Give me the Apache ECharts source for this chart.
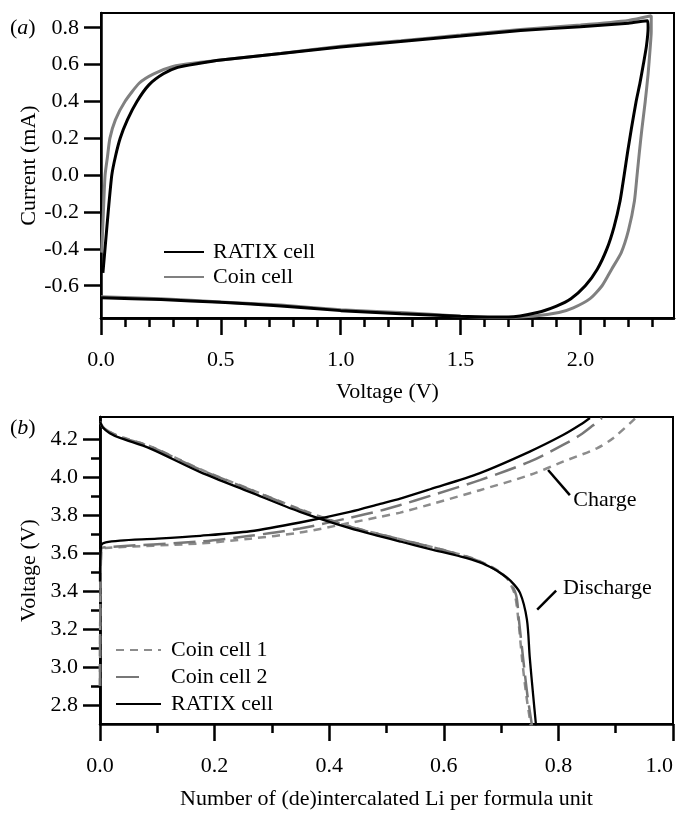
<!DOCTYPE html>
<html>
<head>
<meta charset="utf-8">
<script src="https://cdn.jsdelivr.net/npm/echarts@6/dist/echarts.min.js"></script>
<style>html,body{margin:0;padding:0;background:#fff}#c{width:680px;height:814px}</style>
</head>
<body>
<div id="c"></div>
<script>
// ---------- Panel (a): cyclic voltammetry [V, mA] ----------
const ratixCV = [
  [0.008,-0.53],[0.02,-0.35],[0.03,-0.2],[0.045,0.0],[0.06,0.1],[0.08,0.2],[0.11,0.3],[0.15,0.4],
  [0.2,0.49],[0.26,0.55],[0.32,0.585],[0.4,0.605],[0.5,0.625],[0.75,0.66],[1.0,0.695],[1.25,0.725],
  [1.5,0.755],[1.75,0.785],[2.0,0.805],[2.2,0.825],[2.28,0.838],
  [2.282,0.80],[2.275,0.7],[2.262,0.6],[2.248,0.5],[2.232,0.4],[2.212,0.25],[2.197,0.13],[2.182,0.0],
  [2.165,-0.14],[2.14,-0.28],[2.11,-0.4],[2.07,-0.51],[2.02,-0.6],[1.96,-0.67],[1.9,-0.71],[1.82,-0.745],
  [1.7,-0.77],[1.5,-0.765],[1.25,-0.752],[1.0,-0.735],[0.75,-0.71],[0.5,-0.69],[0.25,-0.675],[0.0,-0.665]
];
const coinCV = [
  [0.003,-0.42],[0.01,-0.2],[0.017,0.0],[0.027,0.1],[0.037,0.2],[0.06,0.3],[0.1,0.4],[0.16,0.5],
  [0.22,0.55],[0.3,0.59],[0.4,0.61],[0.5,0.625],[0.75,0.66],[1.0,0.7],[1.25,0.73],[1.5,0.76],
  [1.75,0.79],[2.0,0.815],[2.2,0.84],[2.295,0.865],
  [2.295,0.78],[2.29,0.68],[2.282,0.55],[2.27,0.4],[2.256,0.25],[2.246,0.13],[2.236,0.0],[2.225,-0.14],
  [2.2,-0.3],[2.17,-0.42],[2.13,-0.51],[2.09,-0.6],[2.04,-0.67],[1.97,-0.72],[1.91,-0.745],[1.8,-0.765],
  [1.65,-0.772],[1.5,-0.765],[1.25,-0.745],[1.0,-0.73],[0.75,-0.705],[0.5,-0.688],[0.25,-0.67],[0.0,-0.66]
];
const topXMajor = [0, 0.5, 1.0, 1.5, 2.0];
const topXMinor = [0,0.1,0.2,0.3,0.4,0.5,0.6,0.7,0.8,0.9,1.0,1.1,1.2,1.3,1.4,1.5,1.6,1.7,1.8,1.9,2.0,2.1,2.2,2.3];
const topYMajor = [-0.6,-0.4,-0.2,0.0,0.2,0.4,0.6,0.8];

// ---------- Panel (b): charge / discharge [x Li, V] ----------
const ratixCharge = [
  [0,3.45],[0.002,3.64],[0.01,3.655],[0.035,3.665],[0.1,3.675],[0.175,3.69],[0.262,3.714],[0.349,3.76],
  [0.436,3.816],[0.489,3.858],[0.524,3.886],[0.576,3.935],[0.663,4.02],[0.75,4.133],[0.808,4.22],
  [0.838,4.274],[0.855,4.31]
];
const ratixDischarge = [
  [0,4.29],[0.005,4.26],[0.017,4.23],[0.035,4.205],[0.087,4.15],[0.175,4.025],[0.262,3.92],[0.349,3.816],
  [0.436,3.73],[0.489,3.687],[0.524,3.66],[0.576,3.62],[0.63,3.58],[0.663,3.55],[0.686,3.518],
  [0.70,3.492],[0.716,3.455],[0.733,3.39],[0.745,3.25],[0.75,3.05],[0.756,2.85],[0.761,2.69]
];
const coin1Charge = [
  [0,2.9],[0.002,3.615],[0.01,3.626],[0.175,3.65],[0.262,3.675],[0.349,3.707],[0.436,3.758],[0.489,3.79],
  [0.524,3.812],[0.576,3.855],[0.663,3.93],[0.75,4.01],[0.808,4.08],[0.867,4.15],[0.896,4.205],[0.935,4.31]
];
const coin1Discharge = [
  [0,4.29],[0.005,4.262],[0.017,4.237],[0.035,4.212],[0.087,4.162],[0.175,4.04],[0.262,3.935],[0.349,3.83],
  [0.436,3.74],[0.524,3.672],[0.6,3.615],[0.65,3.572],[0.68,3.532],[0.70,3.495],[0.712,3.46],
  [0.724,3.38],[0.73,3.25],[0.737,3.03],[0.744,2.85],[0.752,2.69]
];
const coin2Charge = [
  [0,2.9],[0.002,3.62],[0.01,3.63],[0.175,3.66],[0.262,3.69],[0.349,3.728],[0.436,3.785],[0.489,3.822],
  [0.524,3.852],[0.576,3.9],[0.663,3.983],[0.75,4.08],[0.808,4.168],[0.838,4.22],[0.86,4.27],[0.876,4.31]
];
const coin2Discharge = [
  [0,4.29],[0.005,4.262],[0.017,4.236],[0.035,4.21],[0.087,4.16],[0.175,4.038],[0.262,3.933],[0.349,3.828],
  [0.436,3.738],[0.524,3.671],[0.6,3.614],[0.65,3.57],[0.68,3.53],[0.70,3.492],[0.713,3.458],
  [0.726,3.38],[0.731,3.25],[0.739,3.03],[0.746,2.85],[0.754,2.69]
];
const botYMajor = [2.8,3.0,3.2,3.4,3.6,3.8,4.0,4.2];
const botYMinor = [2.9,3.1,3.3,3.5,3.7,3.9,4.1];

// annotations in data coordinates of panel (b)
const chargeLeader = [[0.782,4.036],[0.820,3.904]];
const chargeLabelPos = [0.826,3.878];
const dischargeLeader = [[0.763,3.302],[0.796,3.402]];
const dischargeLabelPos = [0.808,3.413];

const FONT = '"Liberation Serif","Times New Roman",serif';
const FS = 22;
const txt = {fontFamily: FONT, fontSize: FS, color: '#000'};
const axisLine = {onZero: false, lineStyle: {color: '#000', width: 2.5}};

const chart = echarts.init(document.getElementById('c'), null, {renderer: 'canvas'});

const option = {
  animation: false,
  backgroundColor: '#fff',
  grid: [
    {left: 101, top: 13, width: 573, height: 305, show: true, borderColor: '#000', borderWidth: 2, containLabel: false, outerBoundsMode: 'none'},
    {left: 100, top: 417, width: 573, height: 307, show: true, borderColor: '#000', borderWidth: 2, containLabel: false, outerBoundsMode: 'none'}
  ],
  xAxis: [
    {gridIndex: 0, type: 'value', position: 'bottom', min: 0, max: 2.39,
     axisLine: axisLine, splitLine: {show: false},
     axisTick: {show: true, inside: false, length: 9, customValues: topXMinor, lineStyle: {color: '#000', width: 2.5}},
     axisLabel: {show: false}},
    {gridIndex: 0, type: 'value', position: 'bottom', min: 0, max: 2.39,
     axisLine: axisLine, splitLine: {show: false},
     axisTick: {show: true, inside: false, length: 17, customValues: topXMajor, lineStyle: {color: '#000', width: 2.5}},
     axisLabel: Object.assign({customValues: topXMajor, margin: 31, formatter: v => v.toFixed(1)}, txt),
     name: 'Voltage (V)', nameLocation: 'middle', nameGap: 63, nameMoveOverlap: false, nameTextStyle: txt},
    {gridIndex: 1, type: 'value', position: 'bottom', min: 0, max: 1.0, interval: 0.2,
     axisLine: axisLine, splitLine: {show: false},
     axisTick: {show: true, inside: false, length: 17, lineStyle: {color: '#000', width: 2.5}},
     minorTick: {show: true, splitNumber: 2, length: 9, lineStyle: {color: '#000', width: 2.5}},
     minorSplitLine: {show: false},
     axisLabel: Object.assign({margin: 31, alignMaxLabel: 'right', formatter: v => v.toFixed(1)}, txt),
     name: 'Number of (de)intercalated Li per formula unit', nameLocation: 'middle', nameGap: 64, nameMoveOverlap: false, nameTextStyle: txt}
  ],
  yAxis: [
    {gridIndex: 0, type: 'value', position: 'left', min: -0.775, max: 0.88,
     axisLine: axisLine, splitLine: {show: false},
     axisTick: {show: true, inside: false, length: 17, customValues: topYMajor, lineStyle: {color: '#000', width: 2.5}},
     axisLabel: Object.assign({customValues: topYMajor, margin: 22, formatter: v => v.toFixed(1)}, txt),
     name: 'Current (mA)', nameLocation: 'middle', nameGap: 61, nameMoveOverlap: false, nameTextStyle: txt},
    {gridIndex: 1, type: 'value', position: 'left', min: 2.7, max: 4.315,
     axisLine: axisLine, splitLine: {show: false},
     axisTick: {show: true, inside: false, length: 9, customValues: botYMinor, lineStyle: {color: '#000', width: 2.5}},
     axisLabel: {show: false}},
    {gridIndex: 1, type: 'value', position: 'left', min: 2.7, max: 4.315,
     axisLine: axisLine, splitLine: {show: false},
     axisTick: {show: true, inside: false, length: 17, customValues: botYMajor, lineStyle: {color: '#000', width: 2.5}},
     axisLabel: Object.assign({customValues: botYMajor, margin: 22, formatter: v => v.toFixed(1)}, txt),
     name: 'Voltage (V)', nameLocation: 'middle', nameGap: 60, nameMoveOverlap: false, nameTextStyle: txt}
  ],
  legend: [
    {orient: 'vertical', left: 163, top: 241, padding: 0, itemWidth: 40, itemHeight: 14, itemGap: 3,
     data: ['RATIX cell', 'Coin cell'], itemStyle: {opacity: 0},
     textStyle: Object.assign({padding: [0,0,0,4], lineHeight: 22}, txt), selectedMode: false},
    {orient: 'vertical', left: 115, top: 639, padding: 0, itemWidth: 45, itemHeight: 14, itemGap: 5,
     data: ['Coin cell 1', {name: 'Coin cell 2', lineStyle: {type: [23, 40]}}, 'RATIX cell'], itemStyle: {opacity: 0},
     textStyle: Object.assign({padding: [0,0,0,5], lineHeight: 22}, txt), selectedMode: false}
  ],
  series: [
    {name: 'RATIX cell', type: 'line', xAxisIndex: 0, yAxisIndex: 0, data: ratixCV, symbol: 'none', smooth: 0.2,
     lineStyle: {color: '#000', width: 3}, itemStyle: {color: '#000'}, z: 3},
    {name: 'Coin cell', type: 'line', xAxisIndex: 0, yAxisIndex: 0, data: coinCV, symbol: 'none', smooth: 0.2,
     lineStyle: {color: '#808080', width: 3}, itemStyle: {color: '#808080'}, z: 2},
    {name: 'Coin cell 1', type: 'line', xAxisIndex: 2, yAxisIndex: 1, data: coin1Charge, symbol: 'none', smooth: 0.3,
     lineStyle: {color: '#8c8c8c', width: 2.5, type: [8, 6]}, itemStyle: {color: '#8c8c8c'}},
    {name: 'Coin cell 1', type: 'line', xAxisIndex: 2, yAxisIndex: 1, data: coin1Discharge, symbol: 'none', smooth: 0.3,
     lineStyle: {color: '#8c8c8c', width: 2.5, type: [8, 6]}, itemStyle: {color: '#8c8c8c'}},
    {name: 'Coin cell 2', type: 'line', xAxisIndex: 2, yAxisIndex: 1, data: coin2Charge, symbol: 'none', smooth: 0.3,
     lineStyle: {color: '#777777', width: 2.5, type: [22, 8]}, itemStyle: {color: '#777777'}},
    {name: 'Coin cell 2', type: 'line', xAxisIndex: 2, yAxisIndex: 1, data: coin2Discharge, symbol: 'none', smooth: 0.3,
     lineStyle: {color: '#777777', width: 2.5, type: [22, 8]}, itemStyle: {color: '#777777'}},
    {name: 'RATIX cell', type: 'line', xAxisIndex: 2, yAxisIndex: 1, data: ratixCharge, symbol: 'none', smooth: 0.3,
     lineStyle: {color: '#000', width: 2.3}, itemStyle: {color: '#000'}, z: 3},
    {name: 'RATIX cell', type: 'line', xAxisIndex: 2, yAxisIndex: 1, data: ratixDischarge, symbol: 'none', smooth: 0.3,
     lineStyle: {color: '#000', width: 2.3}, itemStyle: {color: '#000'}, z: 3}
  ]
};
chart.setOption(option);

function px(p) { return chart.convertToPixel({xAxisIndex: 2, yAxisIndex: 1}, p); }
const c1 = px(chargeLeader[0]), c2 = px(chargeLeader[1]), cl = px(chargeLabelPos);
const d1 = px(dischargeLeader[0]), d2 = px(dischargeLeader[1]), dl = px(dischargeLabelPos);
const rich = {i: {fontFamily: FONT, fontSize: FS, fontStyle: 'italic', fill: '#000'}};
chart.setOption({
  graphic: [
    {type: 'line', shape: {x1: c1[0], y1: c1[1], x2: c2[0], y2: c2[1]}, style: {stroke: '#000', lineWidth: 2.5}},
    {type: 'text', x: cl[0], y: cl[1], style: {text: 'Charge', font: FS + 'px ' + FONT, fill: '#000', verticalAlign: 'middle', align: 'left'}},
    {type: 'line', shape: {x1: d1[0], y1: d1[1], x2: d2[0], y2: d2[1]}, style: {stroke: '#000', lineWidth: 2.5}},
    {type: 'text', x: dl[0], y: dl[1], style: {text: 'Discharge', font: FS + 'px ' + FONT, fill: '#000', verticalAlign: 'middle', align: 'left'}},
    {type: 'text', x: 10, y: 28, style: {text: '({i|a})', rich: rich, font: FS + 'px ' + FONT, fill: '#000', verticalAlign: 'middle', align: 'left'}},
    {type: 'text', x: 10, y: 428, style: {text: '({i|b})', rich: rich, font: FS + 'px ' + FONT, fill: '#000', verticalAlign: 'middle', align: 'left'}}
  ]
});
</script>
</body>
</html>
